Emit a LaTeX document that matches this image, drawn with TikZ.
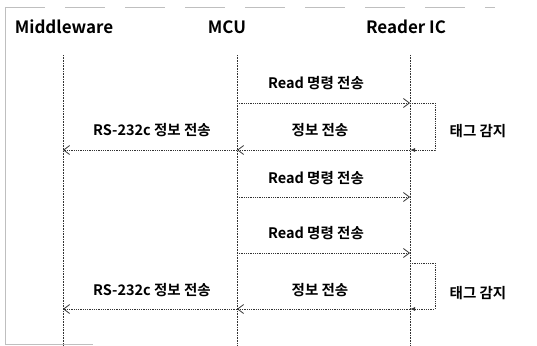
\documentclass[tikz,border=0pt]{standalone}
\usepackage{fontspec}
\setmainfont{Noto Sans CJK KR}[BoldFont={* Bold}]
\usetikzlibrary{arrows.meta}
\tikzset{
  hdr/.style={font=\bfseries\fontsize{17}{19}\selectfont, inner sep=0pt},
  lbl/.style={font=\bfseries\fontsize{14.5}{16}\selectfont, inner sep=0pt},
  life/.style={gray!40!black, line width=0.6pt, densely dotted},
  msg/.style={gray!40!black, line width=0.8pt, densely dotted, -{Straight Barb[length=6pt,width=9pt]}},
  loopline/.style={gray!40!black, line width=0.8pt, densely dotted, -{Latex[length=5pt,width=4pt]}},
  frame/.style={gray!50, line width=0.5pt}
}
\begin{document}
\begin{tikzpicture}[x=1pt,y=-1pt]
\useasboundingbox (0,0) rectangle (537,345);
% frame
\draw[frame, dash pattern=on 40pt off 20pt] (5,7) -- (495,7);
\draw[frame] (5,7) -- (5,344) -- (93,344);
% headers
\node[hdr] (hmw) at (64,27) {Middleware};
\node[hdr] (hmcu) at (227,27) {MCU};
\node[hdr] (hric) at (406,27) {Reader IC};
% lifelines
\coordinate (mwT) at (63,55);  \coordinate (mwB) at (63,345);
\coordinate (mcT) at (237,55); \coordinate (mcB) at (237,345);
\coordinate (rcT) at (410,55); \coordinate (rcB) at (410,345);
\draw[life] (mwT) -- (mwB);
\draw[life] (mcT) -- (mcB);
\draw[life] (rcT) -- (rcB);
% message endpoints
\coordinate (mc1) at (237,103); \coordinate (rc1) at (410,103);
\coordinate (l1a) at (435,103); \coordinate (l1b) at (435,150);
\coordinate (rc2) at (410,150); \coordinate (mc2) at (237,150); \coordinate (mw2) at (63,150);
\coordinate (mc3) at (237,197); \coordinate (rc3) at (410,197);
\coordinate (mc4) at (237,253); \coordinate (rc4) at (410,253);
\coordinate (rc5) at (410,263);
\coordinate (l2a) at (435,263); \coordinate (l2b) at (435,309);
\coordinate (rc6) at (410,309); \coordinate (mc6) at (237,309); \coordinate (mw6) at (63,309);
% first cycle
\node[lbl] (t1) at (316,83) {Read 명령 전송};
\draw[msg] (mc1) -- (rc1);
\draw[loopline] (rc1) -- (l1a) -- (l1b) -- (rc2);
\node[lbl] (tg1) at (478,131) {태그 감지};
\node[lbl] (t2) at (320,130) {정보 전송};
\draw[msg] (rc2) -- (mc2);
\node[lbl] (t3) at (152,130) {RS-232c 정보 전송};
\draw[msg] (mc2) -- (mw2);
% second
\node[lbl] (t4) at (316,178) {Read 명령 전송};
\draw[msg] (mc3) -- (rc3);
% third cycle
\node[lbl] (t5) at (316,233) {Read 명령 전송};
\draw[msg] (mc4) -- (rc4);
\draw[loopline] (rc5) -- (l2a) -- (l2b) -- (rc6);
\node[lbl] (tg2) at (478,293) {태그 감지};
\node[lbl] (t6) at (320,290) {정보 전송};
\draw[msg] (rc6) -- (mc6);
\node[lbl] (t7) at (152,290) {RS-232c 정보 전송};
\draw[msg] (mc6) -- (mw6);
\end{tikzpicture}
\end{document}
